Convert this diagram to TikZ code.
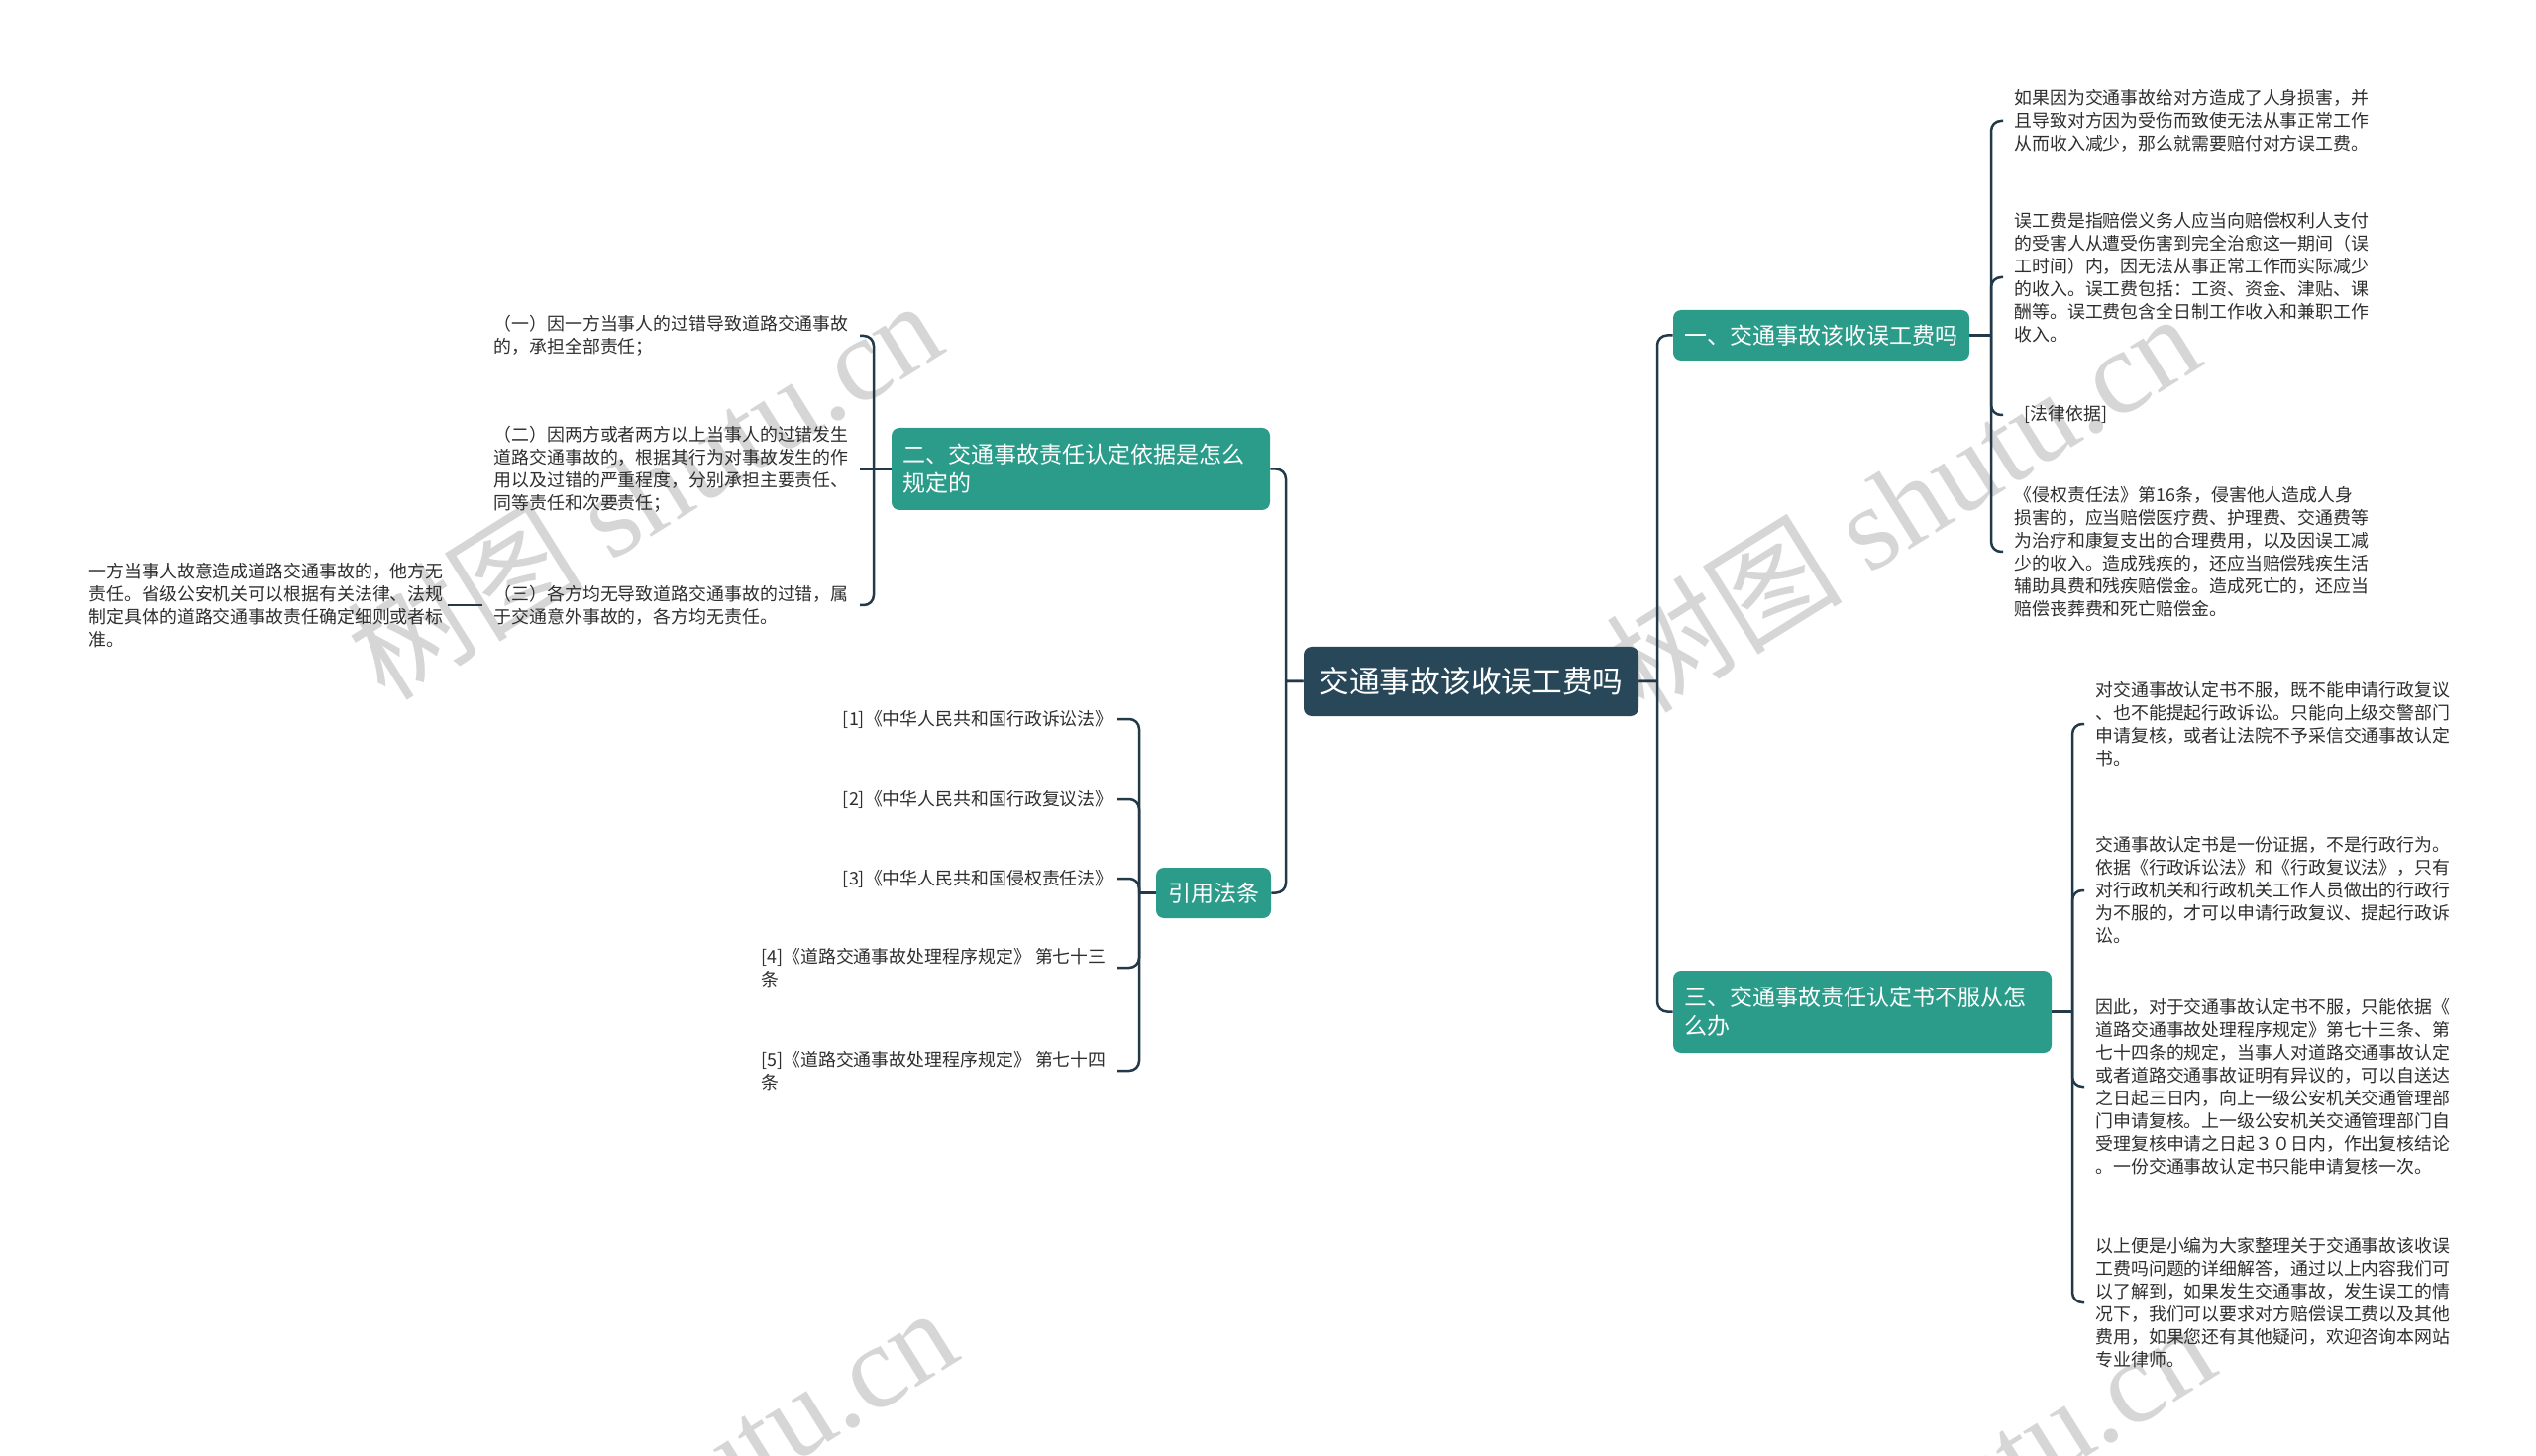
\documentclass[tikz,border=0pt]{standalone}
\usepackage{fontspec}
\setmainfont{Noto Sans CJK SC}
\newfontfamily\wmlatin{Liberation Serif}
\usetikzlibrary{calc}
\definecolor{teal1}{HTML}{2B9B8A}
\definecolor{rootc}{HTML}{28485A}
\definecolor{linec}{HTML}{22394A}
\definecolor{txt}{HTML}{2E2E2E}
\definecolor{wmc}{HTML}{D6D6D6}
\newcommand\elbow[3]{\draw[conn] (#1) -- (#1 -| #2) [rounded corners=5pt] (#1 -| #2) |- (#3);}
\begin{document}
\begin{tikzpicture}[x=0.5pt,y=-0.5pt,
  conn/.style={draw=linec,line width=1.25pt},
  rootbox/.style={fill=rootc,text=white,rounded corners=4pt,minimum width=169pt,minimum height=35pt,inner sep=0pt,font=\fontsize{15.35}{18}\selectfont},
  topicbox/.style={fill=teal1,text=white,rounded corners=4pt,inner sep=0pt,font=\fontsize{11.5}{14.5}\selectfont},
  onebox/.style={topicbox,minimum height=25.5pt},
  twobox/.style={topicbox,text width=180pt,align=left,inner xsep=5.5pt,minimum height=41.5pt},
  leaf/.style={text=txt,align=left,inner xsep=5.5pt,inner ysep=0pt,font=\fontsize{8.95}{11.5}\selectfont},
  wm/.style={text=wmc,rotate=32,font=\fontsize{60}{60}\selectfont}
]
\useasboundingbox (0,0) rectangle (2560,1470);
\begin{scope}
\clip (0,0) rectangle (2560,1470);
\node[wm] (wm1) at (650,493) {树图 {\wmlatin shutu.cn}};
\node[wm] (wm2) at (1920,506) {树图 {\wmlatin shutu.cn}};
\node[wm] (wm3) at (665,1510) {树图 {\wmlatin shutu.cn}};
\node[wm] (wm4) at (1935,1525) {树图 {\wmlatin shutu.cn}};
\end{scope}

\coordinate (sR) at (1673,0);
\coordinate (sL) at (1298,0);
\coordinate (s1) at (2010,0);
\coordinate (s3) at (2092,0);
\coordinate (s2) at (882,0);
\coordinate (s4) at (1150,0);

\node[rootbox] (root) at (1485,688) {交通事故该收误工费吗};
\node[onebox,minimum width=149.5pt] (b1) at (1838.5,338.5) {一、交通事故该收误工费吗};
\node[twobox] (b2) at (1091,473.5) {二、交通事故责任认定依据是怎么\\规定的};
\node[twobox] (b3) at (1880,1021.5) {三、交通事故责任认定书不服从怎\\么办};
\node[onebox,minimum width=58pt] (b4) at (1225,901.5) {引用法条};

% branch 1 leaves
\node[leaf,anchor=west] (c11) at (2022,122) {如果因为交通事故给对方造成了人身损害，并\\且导致对方因为受伤而致使无法从事正常工作\\从而收入减少，那么就需要赔付对方误工费。};
\node[leaf,anchor=west] (c12) at (2022,280) {误工费是指赔偿义务人应当向赔偿权利人支付\\的受害人从遭受伤害到完全治愈这一期间（误\\工时间）内，因无法从事正常工作而实际减少\\的收入。误工费包括：工资、资金、津贴、课\\酬等。误工费包含全日制工作收入和兼职工作\\收入。};
\node[leaf,anchor=west] (c13) at (2022,419) {\hspace{5pt}[法律依据]};
\node[leaf,anchor=west] (c14) at (2022,557) {《侵权责任法》第16条，侵害他人造成人身\\损害的，应当赔偿医疗费、护理费、交通费等\\为治疗和康复支出的合理费用，以及因误工减\\少的收入。造成残疾的，还应当赔偿残疾生活\\辅助具费和残疾赔偿金。造成死亡的，还应当\\赔偿丧葬费和死亡赔偿金。};

% branch 3 leaves
\node[leaf,anchor=west] (c31) at (2104,731) {对交通事故认定书不服，既不能申请行政复议\\、也不能提起行政诉讼。只能向上级交警部门\\申请复核，或者让法院不予采信交通事故认定\\书。};
\node[leaf,anchor=west] (c32) at (2104,899) {交通事故认定书是一份证据，不是行政行为。\\依据《行政诉讼法》和《行政复议法》，只有\\对行政机关和行政机关工作人员做出的行政行\\为不服的，才可以申请行政复议、提起行政诉\\讼。};
\node[leaf,anchor=west] (c33) at (2104,1097) {因此，对于交通事故认定书不服，只能依据《\\道路交通事故处理程序规定》第七十三条、第\\七十四条的规定，当事人对道路交通事故认定\\或者道路交通事故证明有异议的，可以自送达\\之日起三日内，向上一级公安机关交通管理部\\门申请复核。上一级公安机关交通管理部门自\\受理复核申请之日起３０日内，作出复核结论\\。一份交通事故认定书只能申请复核一次。};
\node[leaf,anchor=west] (c34) at (2104,1315) {以上便是小编为大家整理关于交通事故该收误\\工费吗问题的详细解答，通过以上内容我们可\\以了解到，如果发生交通事故，发生误工的情\\况下，我们可以要求对方赔偿误工费以及其他\\费用，如果您还有其他疑问，欢迎咨询本网站\\专业律师。};

% branch 2 leaves
\node[leaf,anchor=east] (c21) at (868,339) {（一）因一方当事人的过错导致道路交通事故\\的，承担全部责任；};
\node[leaf,anchor=east] (c22) at (868,473.5) {（二）因两方或者两方以上当事人的过错发生\\道路交通事故的，根据其行为对事故发生的作\\用以及过错的严重程度，分别承担主要责任、\\同等责任和次要责任；};
\node[leaf,anchor=east] (c23) at (868,611) {（三）各方均无导致道路交通事故的过错，属\\于交通意外事故的，各方均无责任。};
\node[leaf,anchor=east,inner xsep=2pt] (c231) at (452,611) {一方当事人故意造成道路交通事故的，他方无\\责任。省级公安机关可以根据有关法律、法规\\制定具体的道路交通事故责任确定细则或者标\\准。};

% cited laws
\node[leaf,anchor=east,inner xsep=2pt] (l1) at (1128,726) {[1]《中华人民共和国行政诉讼法》};
\node[leaf,anchor=east,inner xsep=2pt] (l2) at (1128,807) {[2]《中华人民共和国行政复议法》};
\node[leaf,anchor=east,inner xsep=2pt] (l3) at (1128,887) {[3]《中华人民共和国侵权责任法》};
\node[leaf,anchor=east] (l4) at (1128,977) {[4]《道路交通事故处理程序规定》 第七十三\\条};
\node[leaf,anchor=east] (l5) at (1128,1081) {[5]《道路交通事故处理程序规定》 第七十四\\条};

% connectors
\elbow{root.east}{sR}{b1.west}
\elbow{root.east}{sR}{b3.west}
\elbow{root.west}{sL}{b2.east}
\elbow{root.west}{sL}{b4.east}
\elbow{b1.east}{s1}{c11.west}
\elbow{b1.east}{s1}{c12.west}
\elbow{b1.east}{s1}{c13.west}
\elbow{b1.east}{s1}{c14.west}
\elbow{b3.east}{s3}{c31.west}
\elbow{b3.east}{s3}{c32.west}
\elbow{b3.east}{s3}{c33.west}
\elbow{b3.east}{s3}{c34.west}
\elbow{b2.west}{s2}{c21.east}
\draw[conn] (b2.west) -- (c22.east);
\elbow{b2.west}{s2}{c23.east}
\draw[conn] (c23.west) -- (c231.east);
\elbow{b4.west}{s4}{l1.east}
\elbow{b4.west}{s4}{l2.east}
\elbow{b4.west}{s4}{l3.east}
\elbow{b4.west}{s4}{l4.east}
\elbow{b4.west}{s4}{l5.east}
\end{tikzpicture}
\end{document}
